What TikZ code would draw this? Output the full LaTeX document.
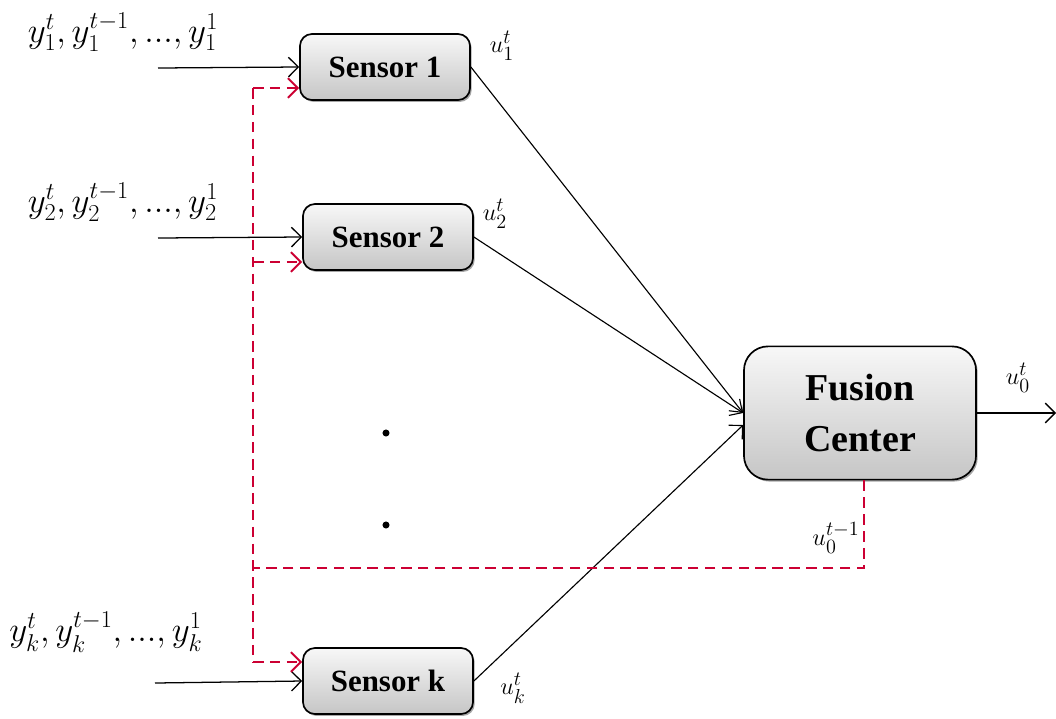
\documentclass[tikz,border=0pt]{standalone}
\usepackage{amsmath}
\usepackage{fontspec}
\setmainfont{Liberation Serif}
\usetikzlibrary{positioning,arrows.meta,shadows,calc}
\definecolor{fbred}{RGB}{204,0,51}

\begin{document}
\begin{tikzpicture}[
    x=0.025cm, y=-0.025cm,
    box/.style={draw, line width=1.2pt, top color=gray!6, bottom color=gray!45,
        drop shadow={shadow xshift=1.2pt, shadow yshift=-1.4pt, fill=gray!70, opacity=1}},
    sensor/.style={box, minimum width=4.25cm, minimum height=1.65cm, rounded corners=0.3cm,
        font=\fontsize{22}{24}\selectfont\bfseries},
    fusion/.style={box, minimum width=5.8cm, minimum height=3.33cm, rounded corners=0.6cm,
        align=center, font=\fontsize{27}{36}\selectfont\bfseries},
    input/.style={-{Straight Barb[length=7pt,width=14pt]}, line width=0.9pt},
    decision/.style={-{Straight Barb[length=7pt,width=14pt]}, line width=0.8pt},
    feedback/.style={fbred, line width=1.4pt, dash pattern=on 7.5pt off 4.5pt},
    fbarrow/.style={feedback, -{Straight Barb[length=7pt,width=14pt]}},
    obs/.style={font=\fontsize{24}{26}\selectfont},
    dec/.style={font=\fontsize{19}{22}\selectfont},
    vdot/.style={circle, fill, inner sep=0pt, minimum size=5pt}
]
\useasboundingbox (0,0) rectangle (1056,718);

% Sensors and fusion center
\node[sensor] (s1) at (385,67) {Sensor 1};
\node[sensor] (s2) at (388,237) {Sensor 2};
\node[sensor] (sk) at (388,681) {Sensor k};
\node[fusion] (fc) at (860,413) {Fusion\\Center};

% Observations
\node[obs] (y1) at (123,32) {$y_1^t, y_1^{t-1}, ..., y_1^1$};
\node[obs] (y2) at (123,202) {$y_2^t, y_2^{t-1}, ..., y_2^1$};
\node[obs] (yk) at (106,632) {$y_k^t, y_k^{t-1}, ..., y_k^1$};

\coordinate (in1) at (158,68);
\coordinate (in2) at (158,238);
\coordinate (ink) at (155,683);
\draw[input] (in1) -- (s1.west);
\draw[input] (in2) -- (s2.west);
\draw[input] (ink) -- (sk.west);

% Local decisions
\node[dec] (u1) at (502,46) {$u_1^t$};
\node[dec] (u2) at (495,214) {$u_2^t$};
\node[dec] (uk) at (513,688) {$u_k^t$};
\draw[decision] (s1.east) -- (fc.west);
\draw[decision] (s2.east) -- (fc.west);
\draw[decision] (sk.east) -- ([yshift=-0.3cm]fc.west);

% Remaining sensors
\node[vdot] (dot1) at (386,433) {};
\node[vdot] (dot2) at (386,525) {};

% Global decision
\coordinate (out) at (1056,413);
\draw[input] (fc.east) -- (out);
\node[dec] (u0) at (1018,378) {$u_0^t$};

% Feedback of the previous global decision
\node[dec] (u0p) at (836,538) {$u_0^{t-1}$};
\coordinate (bustop) at (253,88);
\coordinate (tap2) at (253,262);
\coordinate (busbot) at (253,662);
\coordinate (fbjoin) at (253,568);
\draw[feedback] ([xshift=0.1cm]fc.south) |- (fbjoin);
\draw[feedback] (bustop) -- (busbot);
\draw[fbarrow] (bustop) -- (bustop -| s1.west);
\draw[fbarrow] (tap2) -- (tap2 -| s2.west);
\draw[fbarrow] (busbot) -- (busbot -| sk.west);

\end{tikzpicture}
\end{document}
